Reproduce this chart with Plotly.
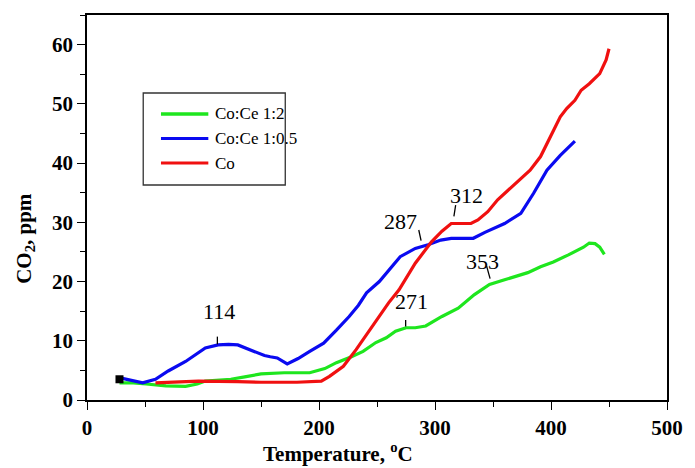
import plotly.graph_objects as go

# ---- data ----
green_x = [28, 40, 51, 60, 68, 85, 95, 102, 115, 124, 136, 150, 170, 192, 205, 215, 228, 238, 249, 258, 266,
           275, 283, 292, 306, 320, 334, 347, 360, 371, 380, 391, 402, 415, 428, 433, 438, 442, 446]
green_y = [2.9, 2.9, 2.7, 2.5, 2.4, 2.3, 2.7, 3.2, 3.4, 3.5, 3.9, 4.4, 4.6, 4.6, 5.3, 6.3, 7.3, 8.2, 9.7, 10.5, 11.6,
           12.2, 12.2, 12.5, 14.1, 15.5, 17.8, 19.5, 20.3, 20.9, 21.5, 22.5, 23.3, 24.5, 25.8, 26.5, 26.4, 25.8, 24.6]

blue_x = [29.5, 38, 48, 59, 70, 85, 95, 102, 113, 122, 130, 141, 153, 158, 164, 172.6, 182, 192, 204, 215, 226,
          234, 241, 252, 259, 266, 270, 283, 294, 305, 314, 333, 343, 360, 374, 385, 396.5, 408, 414, 420.6]
blue_y = [3.7, 3.3, 2.9, 3.5, 4.9, 6.5, 7.8, 8.8, 9.3, 9.4, 9.3, 8.5, 7.5, 7.3, 7.1, 6.1, 7.0, 8.2, 9.6, 11.8, 14.1,
          16.0, 18.1, 20.0, 21.7, 23.4, 24.2, 25.6, 26.2, 27.0, 27.3, 27.3, 28.3, 29.8, 31.5, 34.9, 38.8, 41.3, 42.5, 43.7]

red_x = [59, 75, 96, 130, 150, 181, 202, 209, 221, 232, 246, 260, 269, 283, 297, 306, 314, 331, 337, 345.5, 354,
         368, 382, 391, 399, 408, 413.5, 420.6, 426, 433, 442, 447.5, 450]
red_y = [2.9, 3.0, 3.2, 3.1, 3.0, 3.0, 3.2, 4.0, 5.7, 8.5, 12.4, 16.4, 18.6, 23.1, 26.7, 28.5, 29.8, 29.8, 30.4, 31.8, 33.8,
         36.3, 38.8, 41.1, 44.4, 47.8, 49.2, 50.6, 52.3, 53.4, 55.1, 57.4, 59.3]

start_x = [28]
start_y = [3.5]

series_names = ["Co:Ce 1:2", "Co:Ce 1:0.5", "Co"]
series_colors = ["#1EE61E", "#0A0AF0", "#F01010"]

# peak labels: text, text position, tick start, tick end
peak_labels = ["114", "271", "287", "312", "353"]
peak_text_xy = [(114, 14.9), (280, 16.6), (270, 30.1), (327, 34.5), (341, 23.3)]
peak_tick_from = [(112.4, 10.7), (274.7, 13.5), (286, 28.7), (317.8, 32.9), (344.5, 22.6)]
peak_tick_to = [(112.4, 9.4), (274.7, 12.4), (288, 26.9), (316.3, 31.0), (347.5, 20.5)]

x_ticks = [0, 100, 200, 300, 400, 500]
y_ticks = [0, 10, 20, 30, 40, 50, 60]

SERIF = "Liberation Serif, Times New Roman, serif"

fig = go.Figure()
for xs, ys, name, col in zip([green_x, blue_x, red_x], [green_y, blue_y, red_y], series_names, series_colors):
    fig.add_trace(go.Scatter(x=xs, y=ys, mode="lines", name=name,
                             line=dict(color=col, width=3.2), showlegend=False))
fig.add_trace(go.Scatter(x=start_x, y=start_y, mode="markers", showlegend=False,
                         marker=dict(symbol="square", size=8, color="black")))

for t, (tx, ty), (ax0, ay0), (ax1, ay1) in zip(peak_labels, peak_text_xy, peak_tick_from, peak_tick_to):
    fig.add_annotation(x=tx, y=ty, text=t, showarrow=False, xref="x", yref="y",
                       font=dict(family=SERIF, size=22, color="black"))
    fig.add_shape(type="line", x0=ax0, y0=ay0, x1=ax1, y1=ay1, xref="x", yref="y",
                  line=dict(color="black", width=1.3))

# manual legend (plot area is 588 x 385 px, origin at left=87, bottom=400)
def px(x):
    return (x - 87) / 588

def py(y):
    return (400 - y) / 385

fig.add_shape(type="rect", xref="paper", yref="paper", x0=px(144), x1=px(288), y0=py(185), y1=py(93),
              line=dict(color="#333333", width=1.3), fillcolor="white", layer="above")
for i, (name, col) in enumerate(zip(series_names, series_colors)):
    yy = 114 + i * 24.5
    fig.add_shape(type="line", xref="paper", yref="paper", x0=px(162), x1=px(210), y0=py(yy), y1=py(yy),
                  line=dict(color=col, width=3.5 if i == 0 else 3), layer="above")
    fig.add_annotation(xref="paper", yref="paper", x=px(215), y=py(yy), text=name, showarrow=False,
                       xanchor="left", yanchor="middle", font=dict(family=SERIF, size=17, color="black"))

# axis titles
fig.add_annotation(xref="paper", yref="paper", x=px(341), y=py(452), text="<b>Temperature, <sup>o</sup>C</b>",
                   showarrow=False, font=dict(family=SERIF, size=21, color="black"), yanchor="middle")
fig.add_annotation(xref="paper", yref="paper", x=px(24), y=py(238), text="<b>CO<sub>2</sub>, ppm</b>", textangle=-90,
                   showarrow=False, font=dict(family=SERIF, size=21, color="black"), xanchor="center")

axis_common = dict(showline=True, linecolor="black", linewidth=1.6, mirror=True, ticks="outside",
                   ticklen=8, tickwidth=1.3, tickcolor="black", showgrid=False, zeroline=False,
                   tickfont=dict(family=SERIF, size=21, color="black"))
fig.update_xaxes(range=[0, 500], tickvals=x_ticks, ticktext=[f"<b>{v}</b>" for v in x_ticks],
                 minor=dict(ticks="outside", ticklen=5, dtick=50, tick0=0, tickcolor="black", showgrid=False),
                 **axis_common)
fig.update_yaxes(range=[0, 65], tickvals=y_ticks, ticktext=[f"<b>{v}</b>" for v in y_ticks],
                 minor=dict(ticks="outside", ticklen=5, dtick=5, tick0=0, tickcolor="black", showgrid=False),
                 **axis_common)

fig.update_layout(width=695, height=468, margin=dict(l=87, r=20, t=15, b=68),
                  paper_bgcolor="white", plot_bgcolor="white", showlegend=False)

fig.write_html("out.html")
